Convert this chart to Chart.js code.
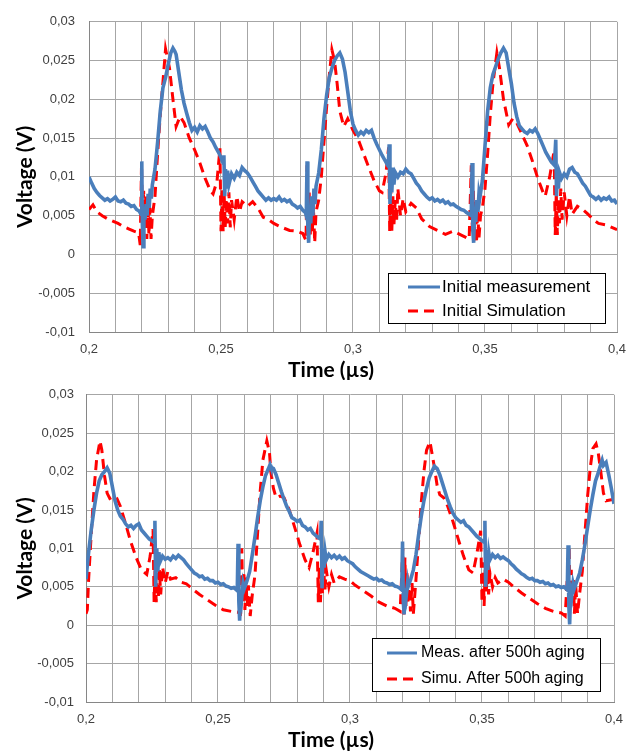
<!DOCTYPE html>
<html>
<head>
<meta charset="utf-8">
<title>Voltage vs time</title>
<script src="https://cdn.jsdelivr.net/npm/chart.js@4.4.1/dist/chart.umd.min.js"></script>
<style>
  body { margin: 0; background: #fff; }
  #wrap { position: relative; width: 641px; height: 751px; }
  canvas { position: absolute; left: 0; }
  #topChart { top: 0; }
  #bottomChart { top: 375px; }
</style>
</head>
<body>
<div id="wrap">
  <canvas id="topChart" width="641" height="380"></canvas>
  <canvas id="bottomChart" width="641" height="376"></canvas>
</div>
<script>
// Tick labels (Excel style, decimal comma)
const xTickLabels = ['0,2', '0,25', '0,3', '0,35', '0,4'];
const yTickLabels = ['-0,01', '-0,005', '0', '0,005', '0,01', '0,015', '0,02', '0,025', '0,03'];

// Series labels
const topLabels = ['Initial measurement', 'Initial Simulation'];
const bottomLabels = ['Meas. after 500h aging', 'Simu. After 500h aging'];

// [time (µs), voltage (V)]
const initialMeasurement = [
  [0.200,0.0100],[0.201,0.0092],[0.202,0.0085],[0.203,0.0080],[0.204,0.0076],[0.205,0.0073],
  [0.206,0.0070],[0.207,0.0072],[0.208,0.0069],[0.209,0.0071],[0.210,0.0074],[0.211,0.0069],
  [0.212,0.0068],[0.213,0.0070],[0.214,0.0066],[0.215,0.0065],[0.216,0.0062],[0.217,0.0063],
  [0.218,0.0058],[0.219,0.0056],[0.2197,0.0052],[0.2200,0.0120],[0.2202,0.0040],[0.2205,0.0010],
  [0.2208,0.0060],[0.2212,0.0045],[0.2216,0.0065],[0.2220,0.0050],[0.2224,0.0078],[0.2228,0.0060],
  [0.2232,0.0085],[0.2236,0.0072],[0.2240,0.0090],[0.225,0.0110],[0.226,0.0145],[0.227,0.0185],
  [0.228,0.0215],[0.229,0.0228],[0.230,0.0245],[0.231,0.0260],[0.2318,0.0266],[0.2325,0.0262],
  [0.233,0.0258],[0.234,0.0235],[0.235,0.0212],[0.236,0.0195],[0.237,0.0182],[0.238,0.0170],
  [0.239,0.0160],[0.240,0.0164],[0.241,0.0158],[0.242,0.0166],[0.243,0.0162],[0.244,0.0165],
  [0.245,0.0158],[0.246,0.0150],[0.247,0.0145],[0.248,0.0138],[0.249,0.0132],[0.250,0.0125],
  [0.2508,0.0118],[0.2511,0.0128],[0.2514,0.0075],[0.2517,0.0110],[0.2520,0.0085],[0.2525,0.0108],
  [0.2530,0.0090],[0.254,0.0104],[0.255,0.0098],[0.256,0.0106],[0.257,0.0102],[0.258,0.0112],
  [0.259,0.0108],[0.260,0.0105],[0.261,0.0100],[0.262,0.0094],[0.263,0.0088],[0.264,0.0082],
  [0.265,0.0078],[0.266,0.0074],[0.267,0.0070],[0.268,0.0073],[0.269,0.0070],[0.270,0.0072],
  [0.271,0.0070],[0.272,0.0074],[0.273,0.0069],[0.274,0.0071],[0.275,0.0068],[0.276,0.0070],
  [0.277,0.0065],[0.278,0.0063],[0.279,0.0060],[0.280,0.0062],[0.281,0.0057],[0.282,0.0054],
  [0.2823,0.0050],[0.2826,0.0120],[0.2829,0.0035],[0.2832,0.0015],[0.2836,0.0060],[0.2840,0.0040],
  [0.2844,0.0075],[0.2848,0.0050],[0.2852,0.0085],[0.2856,0.0065],[0.2860,0.0088],[0.287,0.0105],
  [0.288,0.0135],[0.289,0.0175],[0.290,0.0205],[0.291,0.0228],[0.292,0.0240],[0.293,0.0250],
  [0.294,0.0256],[0.295,0.0260],[0.296,0.0252],[0.297,0.0235],[0.298,0.0210],[0.299,0.0185],
  [0.300,0.0168],[0.301,0.0160],[0.302,0.0154],[0.303,0.0158],[0.304,0.0155],[0.305,0.0160],
  [0.306,0.0157],[0.307,0.0160],[0.308,0.0150],[0.309,0.0142],[0.310,0.0135],[0.311,0.0128],
  [0.312,0.0122],[0.313,0.0116],[0.3134,0.0118],[0.3137,0.0142],[0.3140,0.0065],[0.3143,0.0110],
  [0.3147,0.0080],[0.3151,0.0112],[0.3155,0.0090],[0.316,0.0106],[0.317,0.0100],[0.318,0.0106],
  [0.319,0.0104],[0.320,0.0110],[0.321,0.0106],[0.322,0.0104],[0.323,0.0098],[0.324,0.0092],
  [0.325,0.0088],[0.326,0.0082],[0.327,0.0078],[0.328,0.0074],[0.329,0.0071],[0.330,0.0073],
  [0.331,0.0069],[0.332,0.0071],[0.333,0.0068],[0.334,0.0070],[0.335,0.0066],[0.336,0.0068],
  [0.337,0.0064],[0.338,0.0065],[0.339,0.0062],[0.340,0.0060],[0.341,0.0058],[0.342,0.0057],
  [0.343,0.0054],[0.344,0.0052],[0.3448,0.0050],[0.3451,0.0118],[0.3454,0.0030],[0.3457,0.0015],
  [0.3461,0.0058],[0.3465,0.0042],[0.3469,0.0070],[0.3473,0.0055],[0.3477,0.0078],[0.348,0.0072],
  [0.349,0.0095],[0.350,0.0140],[0.351,0.0185],[0.352,0.0215],[0.353,0.0232],[0.354,0.0242],
  [0.355,0.0252],[0.356,0.0260],[0.357,0.0266],[0.358,0.0260],[0.359,0.0240],[0.360,0.0220],
  [0.361,0.0195],[0.362,0.0178],[0.363,0.0166],[0.364,0.0162],[0.365,0.0158],[0.366,0.0156],
  [0.367,0.0160],[0.368,0.0158],[0.369,0.0162],[0.370,0.0156],[0.371,0.0148],[0.372,0.0140],
  [0.373,0.0132],[0.374,0.0126],[0.375,0.0120],[0.3763,0.0115],[0.3768,0.0148],[0.3771,0.0075],
  [0.3774,0.0112],[0.3778,0.0085],[0.3782,0.0106],[0.379,0.0098],[0.380,0.0104],[0.381,0.0100],
  [0.382,0.0110],[0.383,0.0112],[0.384,0.0106],[0.385,0.0104],[0.386,0.0098],[0.387,0.0092],
  [0.388,0.0088],[0.389,0.0082],[0.390,0.0076],[0.391,0.0074],[0.392,0.0071],[0.393,0.0074],
  [0.394,0.0070],[0.395,0.0073],[0.396,0.0071],[0.397,0.0074],[0.398,0.0069],[0.399,0.0070],
  [0.400,0.0065]
];

const initialSimulation = [
  [0.200,0.0058],[0.2015,0.0064],[0.203,0.0055],[0.205,0.0050],[0.207,0.0046],[0.209,0.0043],
  [0.211,0.0040],[0.213,0.0036],[0.215,0.0033],[0.217,0.0030],[0.2188,0.0028],[0.2194,0.0012],
  [0.2199,0.0117],[0.2203,0.0030],[0.2207,0.0082],[0.2211,0.0035],[0.2215,0.0075],[0.2219,0.0020],
  [0.2223,0.0068],[0.2227,0.0025],[0.2231,0.0060],[0.2235,0.0020],[0.2240,0.0050],[0.225,0.0075],
  [0.226,0.0130],[0.227,0.0180],[0.228,0.0222],[0.229,0.0265],[0.2305,0.0240],[0.2318,0.0200],
  [0.233,0.0165],[0.2345,0.0178],[0.236,0.0170],[0.238,0.0150],[0.240,0.0135],[0.242,0.0118],
  [0.244,0.0098],[0.246,0.0082],[0.247,0.0078],[0.2485,0.0095],[0.2496,0.0137],[0.2500,0.0030],
  [0.2504,0.0085],[0.2508,0.0030],[0.2512,0.0078],[0.2516,0.0035],[0.2520,0.0072],[0.2525,0.0040],
  [0.2530,0.0080],[0.2535,0.0035],[0.2540,0.0070],[0.255,0.0045],[0.256,0.0075],[0.257,0.0055],
  [0.258,0.0068],[0.260,0.0062],[0.262,0.0068],[0.264,0.0060],[0.266,0.0048],[0.268,0.0045],
  [0.270,0.0040],[0.273,0.0035],[0.276,0.0031],[0.279,0.0030],[0.281,0.0027],[0.2822,0.0018],
  [0.2826,0.0115],[0.2830,0.0040],[0.2834,0.0080],[0.2838,0.0022],[0.2842,0.0070],[0.2846,0.0030],
  [0.2850,0.0062],[0.2855,0.0015],[0.2860,0.0055],[0.287,0.0070],[0.288,0.0100],[0.289,0.0145],
  [0.290,0.0190],[0.291,0.0230],[0.292,0.0264],[0.293,0.0250],[0.294,0.0220],[0.295,0.0185],
  [0.2965,0.0165],[0.298,0.0175],[0.300,0.0160],[0.302,0.0148],[0.304,0.0130],[0.306,0.0112],
  [0.308,0.0095],[0.310,0.0082],[0.311,0.0080],[0.3125,0.0105],[0.3135,0.0138],[0.3139,0.0030],
  [0.3143,0.0085],[0.3147,0.0030],[0.3151,0.0075],[0.3155,0.0038],[0.3160,0.0070],[0.3165,0.0042],
  [0.317,0.0085],[0.318,0.0050],[0.319,0.0072],[0.320,0.0055],[0.322,0.0066],[0.324,0.0060],
  [0.326,0.0046],[0.329,0.0036],[0.332,0.0031],[0.335,0.0026],[0.338,0.0030],[0.341,0.0025],
  [0.3440,0.0020],[0.3448,0.0115],[0.3452,0.0030],[0.3456,0.0082],[0.3460,0.0022],[0.3464,0.0068],
  [0.3468,0.0015],[0.3472,0.0060],[0.3477,0.0020],[0.3483,0.0050],[0.349,0.0060],[0.350,0.0085],
  [0.351,0.0130],[0.352,0.0180],[0.353,0.0220],[0.3545,0.0260],[0.3555,0.0240],[0.357,0.0200],
  [0.359,0.0167],[0.3605,0.0175],[0.362,0.0170],[0.364,0.0155],[0.366,0.0140],[0.368,0.0120],
  [0.370,0.0098],[0.372,0.0080],[0.3728,0.0075],[0.3745,0.0100],[0.3762,0.0134],[0.3766,0.0025],
  [0.3770,0.0080],[0.3774,0.0025],[0.3778,0.0072],[0.3782,0.0040],[0.3787,0.0085],[0.3792,0.0045],
  [0.380,0.0080],[0.381,0.0050],[0.382,0.0075],[0.383,0.0052],[0.385,0.0062],[0.387,0.0058],
  [0.389,0.0052],[0.391,0.0045],[0.393,0.0040],[0.396,0.0038],[0.398,0.0035],[0.400,0.0032]
];

const agedMeasurement = [
  [0.200,0.0060],[0.201,0.0095],[0.202,0.0125],[0.203,0.0150],[0.204,0.0172],[0.205,0.0188],
  [0.206,0.0196],[0.207,0.0200],[0.208,0.0205],[0.209,0.0198],[0.210,0.0180],[0.211,0.0162],
  [0.212,0.0150],[0.213,0.0142],[0.214,0.0138],[0.215,0.0132],[0.216,0.0128],[0.217,0.0130],
  [0.218,0.0126],[0.219,0.0130],[0.220,0.0132],[0.221,0.0124],[0.222,0.0120],[0.223,0.0116],
  [0.224,0.0112],[0.225,0.0110],[0.2258,0.0108],[0.2261,0.0136],[0.2264,0.0050],[0.2268,0.0100],
  [0.2272,0.0070],[0.2276,0.0095],[0.228,0.0082],[0.229,0.0090],[0.230,0.0086],[0.231,0.0088],
  [0.232,0.0085],[0.233,0.0090],[0.234,0.0087],[0.235,0.0091],[0.236,0.0088],[0.237,0.0085],
  [0.238,0.0080],[0.239,0.0076],[0.240,0.0072],[0.241,0.0068],[0.242,0.0066],[0.243,0.0063],
  [0.244,0.0064],[0.245,0.0060],[0.246,0.0061],[0.247,0.0058],[0.248,0.0058],[0.249,0.0055],
  [0.250,0.0056],[0.251,0.0053],[0.252,0.0054],[0.253,0.0051],[0.254,0.0050],[0.255,0.0048],
  [0.256,0.0049],[0.257,0.0046],[0.2573,0.0045],[0.2576,0.0106],[0.2579,0.0030],[0.2582,0.0006],
  [0.2586,0.0045],[0.259,0.0035],[0.2595,0.0055],[0.260,0.0048],[0.261,0.0058],[0.262,0.0070],
  [0.263,0.0092],[0.264,0.0115],[0.265,0.0140],[0.266,0.0162],[0.267,0.0180],[0.268,0.0195],
  [0.269,0.0203],[0.2697,0.0209],[0.270,0.0206],[0.271,0.0204],[0.272,0.0196],[0.273,0.0185],
  [0.274,0.0174],[0.275,0.0164],[0.276,0.0155],[0.277,0.0148],[0.278,0.0140],[0.279,0.0138],
  [0.280,0.0135],[0.281,0.0137],[0.282,0.0130],[0.283,0.0128],[0.284,0.0124],[0.285,0.0126],
  [0.286,0.0120],[0.287,0.0117],[0.288,0.0114],[0.2888,0.0112],[0.2891,0.0136],[0.2894,0.0048],
  [0.2898,0.0100],[0.2902,0.0075],[0.2906,0.0095],[0.291,0.0085],[0.292,0.0092],[0.293,0.0088],
  [0.294,0.0091],[0.295,0.0087],[0.296,0.0090],[0.297,0.0086],[0.298,0.0088],[0.299,0.0084],
  [0.300,0.0082],[0.301,0.0080],[0.302,0.0076],[0.303,0.0073],[0.304,0.0070],[0.305,0.0068],
  [0.306,0.0066],[0.307,0.0064],[0.308,0.0062],[0.309,0.0060],[0.310,0.0061],[0.311,0.0058],
  [0.312,0.0059],[0.313,0.0056],[0.314,0.0055],[0.315,0.0053],[0.316,0.0054],[0.317,0.0051],
  [0.318,0.0050],[0.319,0.0048],[0.3196,0.0046],[0.3199,0.0109],[0.3202,0.0030],[0.3205,0.0014],
  [0.3209,0.0048],[0.3213,0.0038],[0.3218,0.0055],[0.322,0.0050],[0.323,0.0060],[0.324,0.0072],
  [0.325,0.0092],[0.326,0.0118],[0.327,0.0142],[0.328,0.0162],[0.329,0.0178],[0.330,0.0192],
  [0.331,0.0200],[0.332,0.0207],[0.333,0.0204],[0.334,0.0196],[0.335,0.0185],[0.336,0.0174],
  [0.337,0.0163],[0.338,0.0154],[0.339,0.0146],[0.340,0.0140],[0.341,0.0137],[0.342,0.0134],
  [0.343,0.0136],[0.344,0.0130],[0.345,0.0128],[0.346,0.0124],[0.347,0.0120],[0.348,0.0116],
  [0.349,0.0113],[0.350,0.0110],[0.3508,0.0108],[0.3511,0.0136],[0.3514,0.0050],[0.3518,0.0098],
  [0.3522,0.0072],[0.3526,0.0094],[0.353,0.0085],[0.354,0.0092],[0.355,0.0088],[0.356,0.0091],
  [0.357,0.0087],[0.358,0.0089],[0.359,0.0086],[0.360,0.0084],[0.361,0.0080],[0.362,0.0077],
  [0.363,0.0073],[0.364,0.0070],[0.365,0.0067],[0.366,0.0065],[0.367,0.0062],[0.368,0.0060],
  [0.369,0.0061],[0.370,0.0058],[0.371,0.0058],[0.372,0.0056],[0.373,0.0057],[0.374,0.0054],
  [0.375,0.0055],[0.376,0.0052],[0.377,0.0053],[0.378,0.0050],[0.379,0.0051],[0.380,0.0049],
  [0.381,0.0050],[0.382,0.0047],[0.3823,0.0046],[0.3826,0.0104],[0.3829,0.0025],[0.3832,0.0001],
  [0.3836,0.0045],[0.384,0.0038],[0.3845,0.0055],[0.385,0.0048],[0.386,0.0058],[0.387,0.0068],
  [0.388,0.0085],[0.389,0.0105],[0.390,0.0128],[0.391,0.0150],[0.392,0.0170],[0.393,0.0188],
  [0.394,0.0198],[0.395,0.0210],[0.3955,0.0215],[0.396,0.0208],[0.397,0.0212],[0.398,0.0196],
  [0.399,0.0178],[0.400,0.0158]
];

const agedSimulation = [
  [0.200,0.0015],[0.2005,0.0020],[0.201,0.0060],[0.202,0.0120],[0.203,0.0175],[0.204,0.0215],
  [0.2053,0.0240],[0.206,0.0228],[0.207,0.0195],[0.208,0.0172],[0.209,0.0165],[0.2105,0.0168],
  [0.2117,0.0165],[0.213,0.0155],[0.215,0.0132],[0.217,0.0108],[0.219,0.0088],[0.221,0.0072],
  [0.223,0.0066],[0.2243,0.0090],[0.2254,0.0125],[0.2258,0.0030],[0.2262,0.0080],[0.2266,0.0030],
  [0.2270,0.0068],[0.2274,0.0035],[0.2278,0.0072],[0.2283,0.0040],[0.229,0.0076],[0.230,0.0055],
  [0.231,0.0070],[0.232,0.0060],[0.234,0.0062],[0.236,0.0056],[0.238,0.0054],[0.240,0.0048],
  [0.243,0.0040],[0.246,0.0033],[0.249,0.0026],[0.252,0.0020],[0.255,0.0018],[0.2575,0.0017],
  [0.2585,0.0015],[0.2590,0.0100],[0.2594,0.0028],[0.2598,0.0070],[0.2602,0.0020],[0.2606,0.0062],
  [0.2610,0.0025],[0.2615,0.0052],[0.2622,0.0012],[0.263,0.0040],[0.264,0.0065],[0.265,0.0120],
  [0.266,0.0175],[0.267,0.0215],[0.2685,0.0240],[0.2695,0.0225],[0.270,0.0200],[0.271,0.0178],
  [0.272,0.0166],[0.2735,0.0168],[0.275,0.0166],[0.277,0.0150],[0.279,0.0128],[0.281,0.0105],
  [0.283,0.0085],[0.2845,0.0075],[0.286,0.0095],[0.2875,0.0120],[0.2880,0.0030],[0.2884,0.0078],
  [0.2888,0.0030],[0.2892,0.0072],[0.2896,0.0040],[0.2900,0.0076],[0.2905,0.0045],[0.291,0.0072],
  [0.292,0.0050],[0.293,0.0066],[0.294,0.0055],[0.296,0.0063],[0.298,0.0060],[0.300,0.0058],
  [0.302,0.0052],[0.305,0.0045],[0.308,0.0038],[0.311,0.0030],[0.314,0.0025],[0.317,0.0022],
  [0.319,0.0018],[0.3200,0.0100],[0.3204,0.0010],[0.3208,0.0088],[0.3212,0.0025],[0.3216,0.0070],
  [0.3220,0.0028],[0.3224,0.0060],[0.3229,0.0018],[0.3235,0.0055],[0.324,0.0015],[0.325,0.0060],
  [0.326,0.0110],[0.327,0.0160],[0.328,0.0200],[0.329,0.0228],[0.3303,0.0239],[0.331,0.0225],
  [0.332,0.0205],[0.333,0.0182],[0.334,0.0170],[0.3355,0.0166],[0.337,0.0155],[0.339,0.0135],
  [0.341,0.0112],[0.343,0.0090],[0.345,0.0072],[0.3466,0.0068],[0.348,0.0092],[0.3495,0.0123],
  [0.3500,0.0030],[0.3504,0.0082],[0.3508,0.0025],[0.3512,0.0072],[0.3516,0.0040],[0.3520,0.0076],
  [0.3525,0.0040],[0.353,0.0068],[0.354,0.0050],[0.355,0.0062],[0.356,0.0055],[0.358,0.0060],
  [0.360,0.0056],[0.362,0.0050],[0.365,0.0042],[0.368,0.0035],[0.371,0.0028],[0.374,0.0022],
  [0.377,0.0018],[0.380,0.0016],[0.3815,0.0012],[0.3830,0.0103],[0.3834,0.0020],[0.3838,0.0072],
  [0.3842,0.0030],[0.3846,0.0062],[0.3850,0.0015],[0.3855,0.0052],[0.3862,0.0015],[0.387,0.0042],
  [0.388,0.0070],[0.389,0.0120],[0.390,0.0168],[0.391,0.0205],[0.392,0.0230],[0.3932,0.0236],
  [0.394,0.0225],[0.395,0.0200],[0.396,0.0172],[0.397,0.0162],[0.3985,0.0163],[0.400,0.0164]
];

const BLUE = '#4a7ebb';
const RED = '#ff0000';
const TITLE_FONT = 'bold 21px Lato, "Open Sans", sans-serif';

// Legend drawn inside the plot area with a black frame, like Excel
const boxLegend = {
  id: 'boxLegend',
  afterDraw(chart, args, opts) {
    const ctx = chart.ctx;
    ctx.save();
    ctx.fillStyle = '#fff';
    ctx.fillRect(opts.left, opts.top, opts.width, opts.height);
    ctx.strokeStyle = '#000';
    ctx.lineWidth = 1;
    ctx.setLineDash([]);
    ctx.strokeRect(opts.left + 0.5, opts.top + 0.5, opts.width, opts.height);
    ctx.font = opts.fontSize + 'px "Liberation Sans", Arial, sans-serif';
    ctx.textBaseline = 'middle';
    ctx.fillStyle = '#000';
    chart.data.datasets.forEach((ds, i) => {
      const y = opts.top + opts.rows[i];
      ctx.beginPath();
      ctx.strokeStyle = ds.borderColor;
      ctx.lineWidth = 3;
      ctx.setLineDash(ds.borderDash || []);
      ctx.moveTo(opts.left + opts.lineStart, y);
      ctx.lineTo(opts.left + opts.lineEnd, y);
      ctx.stroke();
      ctx.fillText(ds.label, opts.left + opts.textX, y);
    });
    ctx.restore();
  }
};

// Excel puts the x axis title a little left of the plot centre
const xTitle = {
  id: 'xTitle',
  afterDraw(chart, args, opts) {
    const ctx = chart.ctx;
    ctx.save();
    ctx.font = TITLE_FONT;
    ctx.fillStyle = '#000';
    ctx.textAlign = 'center';
    ctx.textBaseline = 'middle';
    ctx.fillText(opts.text, opts.x, opts.y);
    ctx.restore();
  }
};

function toPoints(pairs) {
  return pairs.map(p => ({ x: p[0], y: p[1] }));
}

function makeChart(id, labels, measured, simulated, lay) {
  const tickFont = { family: '"Liberation Sans", Arial, sans-serif', size: 13 };
  return new Chart(document.getElementById(id), {
    type: 'line',
    data: {
      datasets: [{
        label: labels[0],
        data: toPoints(measured),
        borderColor: BLUE,
        borderWidth: 3.6,
        pointRadius: 0,
        tension: 0
      }, {
        label: labels[1],
        data: toPoints(simulated),
        borderColor: RED,
        borderWidth: 3,
        borderDash: [10, 6],
        pointRadius: 0,
        tension: 0
      }]
    },
    options: {
      responsive: false,
      animation: false,
      layout: { padding: { left: 0, right: lay.right, top: 14, bottom: 0 } },
      plugins: {
        legend: { display: false },
        tooltip: { enabled: false },
        boxLegend: lay.legend,
        xTitle: { text: 'Time (µs)', x: 331, y: lay.xTitleY }
      },
      scales: {
        x: {
          type: 'linear',
          min: 0.2,
          max: 0.4,
          afterFit: s => { s.height = lay.xHeight; },
          grid: { color: '#a6a6a6', drawTicks: false },
          border: { color: '#868686' },
          ticks: {
            stepSize: 0.01,
            autoSkip: false,
            maxRotation: 0,
            padding: 10,
            color: '#404040',
            font: tickFont,
            callback: v => {
              const k = Math.round((v - 0.2) * 100);
              return k % 5 === 0 ? xTickLabels[k / 5] : '';
            }
          }
        },
        y: {
          type: 'linear',
          min: -0.01,
          max: 0.03,
          afterFit: s => { s.width = lay.yWidth; },
          grid: { color: '#a6a6a6', drawTicks: false },
          border: { color: '#868686' },
          ticks: {
            stepSize: 0.005,
            padding: lay.yTickPad,
            color: '#404040',
            font: tickFont,
            callback: v => yTickLabels[Math.round((v + 0.01) / 0.005)]
          },
          title: {
            display: true,
            text: 'Voltage (V)',
            color: '#000',
            font: { family: 'Lato, "Open Sans", sans-serif', size: 21, weight: 'bold', lineHeight: 1 },
            padding: { top: 14.5, bottom: 0 }
          }
        }
      }
    },
    plugins: [boxLegend, xTitle]
  });
}

makeChart('topChart', topLabels, initialMeasurement, initialSimulation, {
  right: 24, xHeight: 48, xTitleY: 370, yWidth: 89, yTickPad: 14,
  legend: { left: 388, top: 273, width: 217, height: 50, rows: [14, 38],
            lineStart: 20, lineEnd: 52, textX: 54, fontSize: 17 }
});

makeChart('bottomChart', bottomLabels, agedMeasurement, agedSimulation, {
  right: 27, xHeight: 49, xTitleY: 365, yWidth: 86, yTickPad: 12,
  legend: { left: 372, top: 263, width: 228, height: 53, rows: [15, 41],
            lineStart: 15, lineEnd: 45, textX: 49, fontSize: 16 }
});
</script>
</body>
</html>
